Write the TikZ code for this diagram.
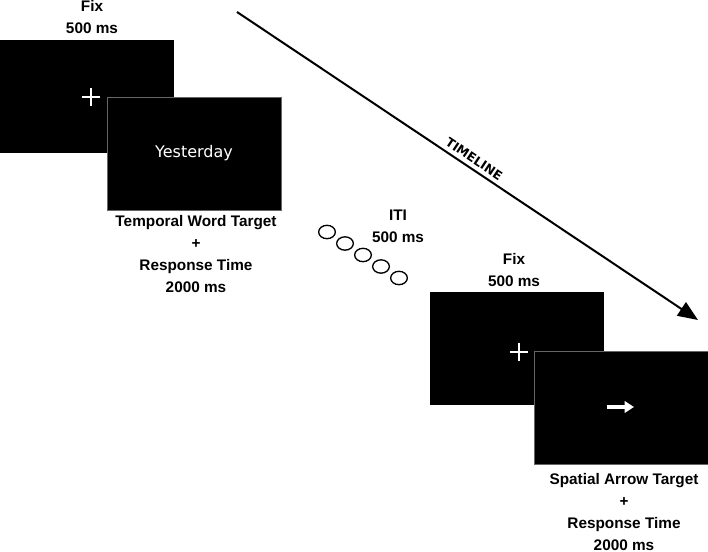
\documentclass[tikz,border=0pt]{standalone}
\usepackage{fontspec}
\setmainfont{Liberation Sans}
\newfontfamily\screenfont{DejaVu Sans}
\usetikzlibrary{positioning,shapes.geometric,arrows.meta}

\begin{document}
\begin{tikzpicture}[x=0.75pt,y=-0.75pt,
  screen/.style={fill=black,minimum width=130.5pt,minimum height=84.75pt,inner sep=0pt,outer sep=0pt},
  front/.style={screen,draw=black!60,line width=0.6pt},
  caption/.style={align=center,inner sep=0pt,font=\fontsize{11.5}{16.5}\selectfont\bfseries},
  dot/.style={ellipse,draw,line width=1pt,minimum width=12.5pt,minimum height=10pt,inner sep=0pt}]
\useasboundingbox (0,0) rectangle (708,552);

\coordinate (tstart) at (237,12);
\coordinate (tend) at (698,320);
\draw[line width=1.5pt,-{Triangle[length=15pt,width=12pt]}] (tstart) -- node[sloped,above=3pt,pos=0.503,inner sep=0pt,font=\screenfont\bfseries\fontsize{9.3}{10}\selectfont] (tl) {TIMELINE} (tend);

\node[screen] (fixA) at (87,96.5) {};
\draw[white,line width=1pt] (82,97) -- (100,97) (91,88) -- (91,106);
\node[front] (word) at (194,153.5) {};
\node[text=white,inner sep=0pt,font=\screenfont\fontsize{12}{14}\selectfont] (wordtxt) at (word) {Yesterday};
\node[caption,anchor=south] (fixAlbl) at (92,34) {Fix\\500 ms};
\node[caption,anchor=north] (wordlbl) at (196,215) {Temporal Word Target\\+\\Response Time\\2000 ms};

\foreach \i in {0,...,4}
	\node[dot] (iti\i) at ({327+18*\i},{232+11.5*\i}) {};
\node[caption,anchor=south] (itilbl) at (398,243) {ITI\\500 ms};

\node[screen] (fixB) at (516.5,349) {};
\draw[white,line width=1pt] (510,352) -- (528,352) (519,343) -- (519,361);
\node[front] (arrowscr) at (621,408) {};
\draw[white,line width=3.5pt,-{Triangle[length=7pt,width=8.5pt]}] (607,407) -- (634,407);
\node[caption,anchor=south] (fixBlbl) at (514,287) {Fix\\500 ms};
\node[caption,anchor=north] (arrowlbl) at (624,473) {Spatial Arrow Target\\+\\Response Time\\2000 ms};
\end{tikzpicture}
\end{document}
